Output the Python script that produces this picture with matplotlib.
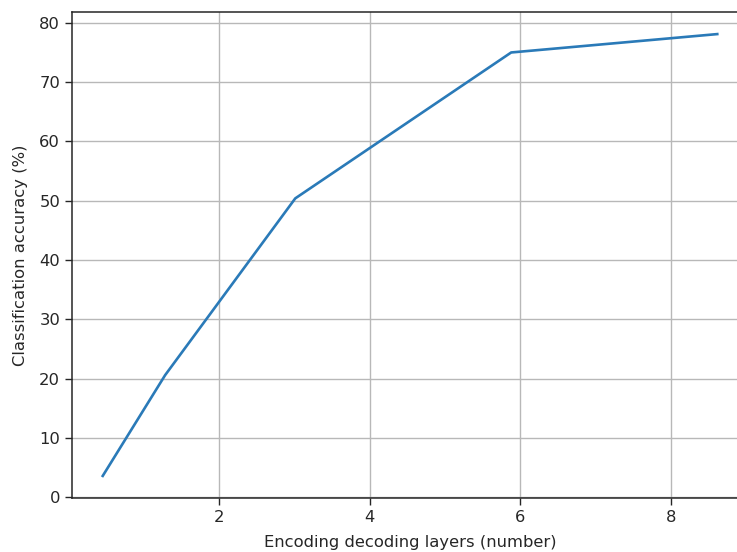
import matplotlib
matplotlib.use("Agg")
import matplotlib.pyplot as plt

# Accuracy vs. number of encoding/decoding layers
layers = [0.45, 1.28, 3.01, 5.88, 8.62]
accuracy = [3.6, 20.6, 50.4, 75.0, 78.1]

plt.rcParams['font.size'] = 11.8
plt.rcParams['text.color'] = '#262626'
plt.rcParams['axes.labelcolor'] = '#262626'
plt.rcParams['xtick.color'] = '#262626'
plt.rcParams['ytick.color'] = '#262626'

fig = plt.figure(figsize=(7.37, 5.52), dpi=100)
ax = fig.add_axes([72 / 737, 1 - 498 / 552, (748 - 72) / 737, (498 - 12) / 552])

ax.plot(layers, accuracy, color='#2a7ab8', linewidth=1.9)
ax.grid(True, color='#b8b8b8', linewidth=1.0)
ax.set_xticks([2, 4, 6, 8])
ax.set_yticks(range(0, 81, 10))
ax.set_xlabel('Encoding decoding layers (number)', labelpad=7)
ax.set_ylabel('Classification accuracy (%)', labelpad=8)
ax.tick_params(length=5, width=1.0)
for s in ax.spines.values():
    s.set_linewidth(1.1)
    s.set_color('#262626')

fig.savefig('out.png', dpi=100)
